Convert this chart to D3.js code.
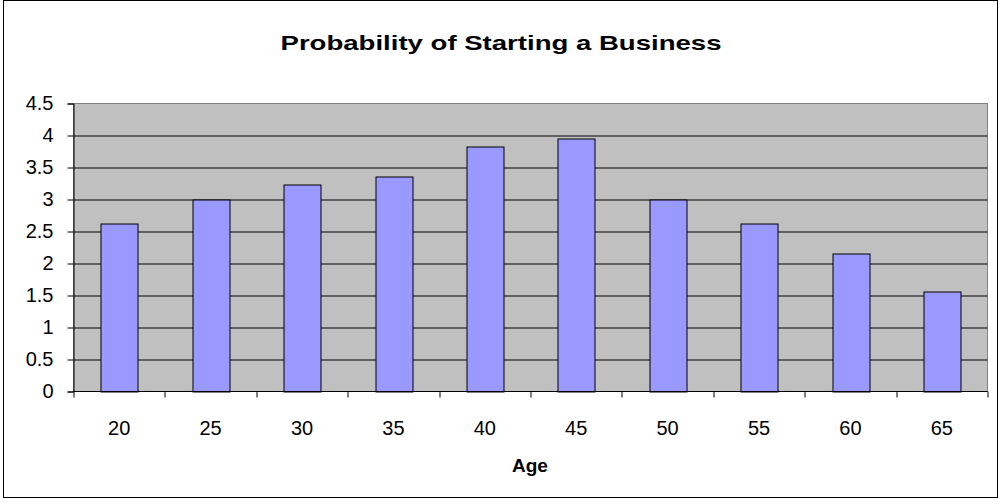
<!DOCTYPE html>
<html>
<head>
<meta charset="utf-8">
<script src="https://cdn.jsdelivr.net/npm/d3@7"></script>
<style>
  body { margin: 0; background: #fff; }
  svg text { font-family: "Liberation Sans", Arial, sans-serif; fill: #000; }
</style>
</head>
<body>
<div id="chart"></div>
<script>
// chart data
var ages = ["20", "25", "30", "35", "40", "45", "50", "55", "60", "65"];
var probability = [2.63, 3.0, 3.24, 3.36, 3.83, 3.96, 3.0, 2.63, 2.16, 1.56];
var yTicks = [0, 0.5, 1, 1.5, 2, 2.5, 3, 3.5, 4, 4.5];

var svgWidth = 1002;
var svgHeight = 499;

// plot area inside the frame
var plot = { left: 73.5, top: 103.5, right: 987.5, bottom: 391.5 };
var chartWidth = plot.right - plot.left;
var chartHeight = plot.bottom - plot.top;

var svg = d3.select("#chart").append("svg")
  .attr("width", svgWidth)
  .attr("height", svgHeight);

// outer frame
svg.append("rect")
  .attr("x", 3.5).attr("y", 0.5)
  .attr("width", 994).attr("height", 497)
  .attr("fill", "#fff")
  .attr("stroke", "#000")
  .attr("stroke-width", 1);

var chartGroup = svg.append("g")
  .attr("transform", `translate(${plot.left}, ${plot.top})`);

var xBand = d3.scaleBand().domain(ages).range([0, chartWidth]);

var yScale = d3.scaleLinear()
  .domain([0, 4.5])
  .range([chartHeight, 0]);

// grey plot background
chartGroup.append("rect")
  .attr("width", chartWidth)
  .attr("height", chartHeight)
  .attr("fill", "#c0c0c0")
  .attr("stroke", "#808080");

// gridlines
chartGroup.selectAll(".grid")
  .data(yTicks.filter(d => d > 0 && d < 4.5))
  .enter()
  .append("line")
  .attr("x1", 0).attr("x2", chartWidth)
  .attr("y1", d => Math.round(yScale(d)) + 0.5)
  .attr("y2", d => Math.round(yScale(d)) + 0.5)
  .attr("stroke", "#000")
  .attr("stroke-width", 1);

// bars
chartGroup.selectAll(".bar")
  .data(probability)
  .enter()
  .append("rect")
  .attr("x", (d, i) => Math.round(xBand(ages[i]) + xBand.bandwidth() * 0.3) + 0.5)
  .attr("y", d => Math.round(yScale(d)) + 0.5)
  .attr("width", Math.round(xBand.bandwidth() * 0.4))
  .attr("height", d => Math.round(yScale(0)) - Math.round(yScale(d)))
  .attr("fill", "#9999ff")
  .attr("stroke", "#000")
  .attr("stroke-width", 1);

// y axis
var leftAxis = d3.axisLeft(yScale)
  .tickValues(yTicks)
  .tickFormat(d => String(d))
  .tickSize(6)
  .tickPadding(14);

var yAxisG = chartGroup.append("g").call(leftAxis);
yAxisG.select(".domain").attr("stroke", "#000");
yAxisG.selectAll("text")
  .attr("font-size", 20)
  .attr("font-family", "Liberation Sans, Arial, sans-serif");

// x axis, ticks at category boundaries
var xAxisG = chartGroup.append("g")
  .attr("transform", `translate(0, ${chartHeight})`);

xAxisG.append("line")
  .attr("x1", 0).attr("x2", chartWidth)
  .attr("y1", 0).attr("y2", 0)
  .attr("stroke", "#000");

xAxisG.selectAll(".xtick")
  .data(ages.concat(["end"]))
  .enter()
  .append("line")
  .attr("x1", (d, i) => Math.round(i * xBand.bandwidth()) + 0.5)
  .attr("x2", (d, i) => Math.round(i * xBand.bandwidth()) + 0.5)
  .attr("y1", 0).attr("y2", 6)
  .attr("stroke", "#000");

xAxisG.selectAll(".xlabel")
  .data(ages)
  .enter()
  .append("text")
  .attr("x", d => xBand(d) + xBand.bandwidth() / 2)
  .attr("y", 43)
  .attr("text-anchor", "middle")
  .attr("font-size", 20)
  .text(d => d);

// title
svg.append("text")
  .attr("x", 501)
  .attr("y", 50)
  .attr("text-anchor", "middle")
  .attr("font-size", 21)
  .attr("font-weight", "bold")
  .attr("textLength", 441)
  .attr("lengthAdjust", "spacingAndGlyphs")
  .text("Probability of Starting a Business");

// x axis title
svg.append("text")
  .attr("x", 530)
  .attr("y", 472)
  .attr("text-anchor", "middle")
  .attr("font-size", 19)
  .attr("font-weight", "bold")
  .text("Age");
</script>
</body>
</html>
